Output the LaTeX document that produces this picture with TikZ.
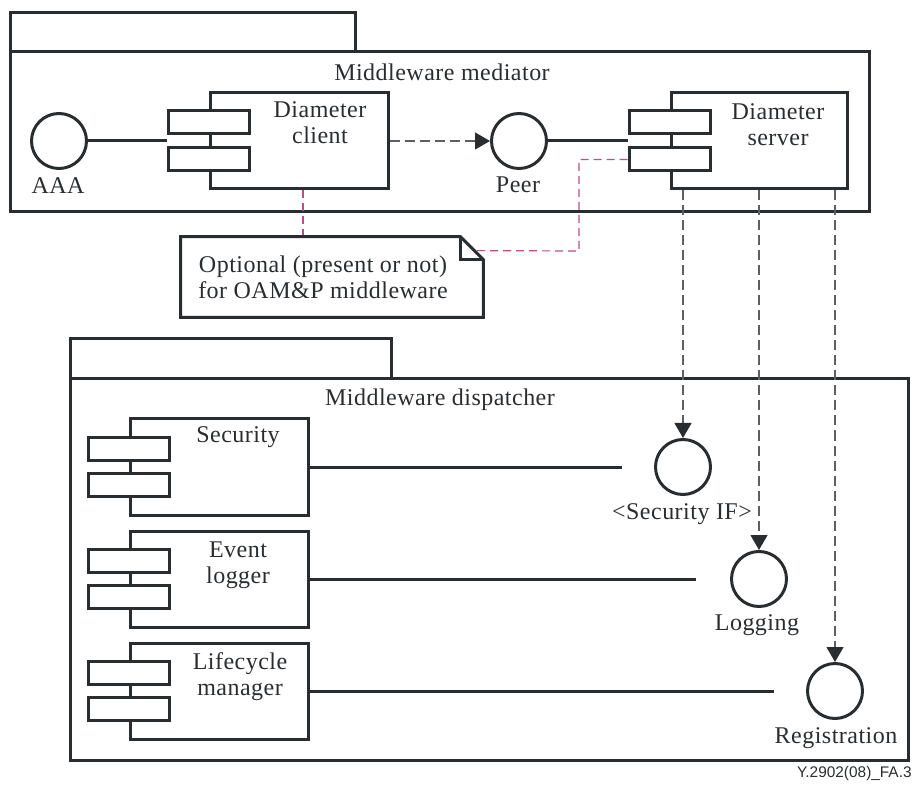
\documentclass[tikz,border=0pt]{standalone}
\usepackage{fontspec}
\setmainfont[LetterSpace=2]{Liberation Serif}
\newfontfamily\footfont{Liberation Sans}
\usetikzlibrary{arrows.meta}
\definecolor{ink}{RGB}{42,45,48}
\definecolor{dashgray}{RGB}{95,95,95}
\definecolor{optpink}{RGB}{185,80,135}

\begin{document}
\begin{tikzpicture}[x=0.5pt,y=-0.5pt]
\tikzstyle{iface}=[draw=ink,line width=1.5pt,shape=circle,inner sep=0pt,minimum size=27.5pt]
\tikzstyle{part}=[draw=ink,line width=1.5pt,inner sep=0pt,minimum width=89pt,minimum height=48pt]
\tikzstyle{port}=[draw=ink,fill=white,line width=1.5pt,inner sep=0pt,minimum width=40.5pt,minimum height=11.5pt]
\tikzstyle{txt}=[inner sep=0pt,anchor=base,align=center,text=ink,font=\fontsize{12}{13}\selectfont]
\tikzstyle{link}=[draw=ink,line width=1.5pt]
\tikzstyle{dep}=[draw=dashgray,line width=0.6pt,dash pattern=on 5pt off 2.5pt]
\tikzstyle{optline}=[draw=optpink,line width=0.6pt,dash pattern=on 4pt off 2.5pt]
\useasboundingbox (0,0) rectangle (914,785);

% the two packages
\draw[link] (10,13) rectangle (355,52);
\draw[link] (10,52) rectangle (869,212);
\draw[link] (70,339) rectangle (391,379);
\draw[link] (70,379) rectangle (908,760);
\path (442,81) node[txt](medtitle){Middleware mediator};
\path (440,406) node[txt](distitle){Middleware dispatcher};

% mediator
\path (59,141) node[iface](aaa){} (519,141) node[iface](peer){};
\path (299,141) node[part](client){} (759,141) node[part,minimum width=88pt](server){};
\path (client.west) ++(0,-18.5) node[port](c1){} (client.west) ++(0,18.5) node[port](c2){};
\path (server.west) ++(0,-18.5) node[port](s1){} (server.west) ++(0,18.5) node[port](s2){};
\path (320,144) node[txt](clientlbl){Diameter\\client} (778,146) node[txt](serverlbl){Diameter\\server};
\path (58,194) node[txt](aaalbl){AAA} (518,193) node[txt](peerlbl){Peer};
\draw[link] (aaa) -- (aaa -| c1.west);
\draw[link] (peer) -- (peer -| s1.west);
\draw[dep,-{Triangle[length=7.5pt,width=8.5pt,color=ink]}] (client) -- (peer);

% note
\path (332,277) node[inner sep=0pt,minimum width=151pt,minimum height=40pt](note){};
\coordinate (fold) at ([xshift=-5pt,yshift=-7pt]note.north east);
\coordinate (optbend) at (579,251);
\draw[optline] ([xshift=2pt]client.south) -- ([xshift=2pt]client.south |- note.north);
\draw[optline] (s2.west) -| (optbend) -- (fold);
\draw[link,fill=white] (note.north west) -- ([xshift=-11.5pt]note.north east) -- ([yshift=-11.5pt]note.north east) -- (note.south east) -- (note.south west) -- cycle;
\draw[link] ([xshift=-11.5pt]note.north east) |- ([yshift=-11.5pt]note.north east);
\path (323,299) node[txt](notetxt){Optional (present or not)\\for OAM\&P middleware};

% dispatcher
\path (219,467) node[part](security){} (219,579) node[part](logger){} (219,691) node[part](lifecycle){};
\path (security.west) ++(0,-18) node[port](p1){} (security.west) ++(0,18) node[port](p2){};
\path (logger.west) ++(0,-18) node[port](p3){} (logger.west) ++(0,18) node[port](p4){};
\path (lifecycle.west) ++(0,-18) node[port](p5){} (lifecycle.west) ++(0,18) node[port](p6){};
\path (238,443) node[txt](seclbl){Security} (238,583) node[txt](loglbl){Event\\logger} (240,695) node[txt](lifelbl){Lifecycle\\manager};
\path (683,467) node[iface](secif){} (759,579) node[iface](logging){} (835,691) node[iface](registration){};
\path (682,519) node[txt](seciflbl){<Security IF>} (757,630) node[txt](logginglbl){Logging} (836,743) node[txt](reglbl){Registration};
\draw[link,shorten >=16pt] (security) -- (secif);
\draw[link,shorten >=17pt] (logger) -- (logging);
\draw[link,shorten >=16pt] (lifecycle) -- (registration);

% dependencies out of the server
\draw[dep,-{Triangle[length=7.5pt,width=8.5pt,color=ink]}] (secif |- server.south) -- (secif);
\draw[dep,-{Triangle[length=7.5pt,width=8.5pt,color=ink]}] (logging |- server.south) -- (logging);
\draw[dep,-{Triangle[length=7.5pt,width=8.5pt,color=ink]}] (registration |- server.south) -- (registration);

\path (912,777) node[anchor=base east,inner sep=0pt,text=ink,font=\footfont\fontsize{7.7}{9}\selectfont](figid){Y.2902(08)\_FA.3};
\end{tikzpicture}
\end{document}
